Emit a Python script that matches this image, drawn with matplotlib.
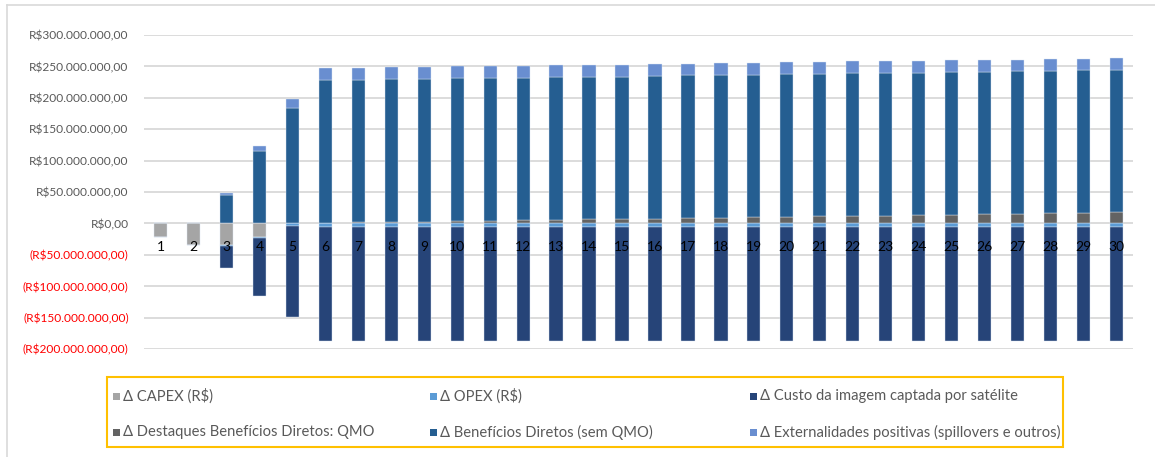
import numpy as np
import matplotlib.pyplot as plt
from matplotlib.patches import Rectangle
from matplotlib.lines import Line2D

plt.rcParams['font.family'] = ['Lato', 'DejaVu Sans']

# valores em milhões de R$
anos = list(range(1, 31))
capex = [-22, -34.5, -34.5, -21, 0, 0, 0, 0, 0, 0, 0, 0, 0, 0, 0,
         0, 0, 0, 0, 0, 0, 0, 0, 0, 0, 0, 0, 0, 0, 0]
opex = [0, 0, -1, -1.5, -4.5, -5, -5, -5, -5, -5, -5, -5, -5, -5, -5,
        -5, -5, -5, -5, -5, -5, -5, -5, -5, -5, -5, -5, -5, -5, -5]
custo_imagem = [0, 0, -35.5, -93, -144, -182, -182, -182, -182, -182, -182, -182, -182, -182, -182,
                -182, -182, -182, -182, -182, -182, -182, -182, -182, -182, -182, -182, -182, -182, -182]
qmo = [0, 0, 0, 0, 0, 0.5, 1.5, 2.5, 3, 3.5, 4.5, 5, 5.5, 6.5, 7,
       7.5, 8, 9, 10, 10.5, 11, 11.5, 12, 13, 14, 14.5, 15, 16, 17, 17.5]
beneficios = [0, 0, 45, 115, 183.5, 228, 227.5, 227.2, 227.6, 227.8, 227.2, 227.2, 227.8, 227.3, 226.8,
              227.9, 228, 227.7, 227, 227.5, 227.6, 228.2, 228.2, 227.2, 227.7, 227.2, 227.9, 227.3, 227.4, 227.5]
externalidades = [0, 0, 4, 9, 14, 18.4, 19, 19, 18.6, 19, 19.1, 19.1, 19.1, 18.6, 19.1,
                  18.6, 18.4, 18.4, 19, 18.7, 18.5, 18.5, 18.5, 19, 18.1, 18.6, 17.9, 18.6, 18, 18]

nomes = ['Δ CAPEX (R$)', 'Δ OPEX (R$)', 'Δ Custo da imagem captada por satélite',
         'Δ Destaques Benefícios Diretos: QMO', 'Δ Benefícios Diretos (sem QMO)',
         'Δ Externalidades positivas (spillovers e outros)']
cores = ['#A5A5A5', '#5B9BD5', '#264478', '#636363', '#255E91', '#698ED0']

fig = plt.figure(figsize=(11.55, 4.57), dpi=100)
ax = fig.add_axes([144 / 1155, 1 - 349 / 457, 989 / 1155, 314 / 457])

x = np.array(anos)
w = 0.4
capex = np.array(capex); opex = np.array(opex); custo_imagem = np.array(custo_imagem)
qmo = np.array(qmo); beneficios = np.array(beneficios); externalidades = np.array(externalidades)

kw = dict(width=w, edgecolor='#dce6f2', linewidth=0.3)
ax.bar(x, capex, color=cores[0], **kw)
ax.bar(x, opex, bottom=capex, color=cores[1], **kw)
ax.bar(x, custo_imagem, bottom=capex + opex, color=cores[2], **kw)
ax.bar(x, qmo, color=cores[3], **kw)
ax.bar(x, beneficios, bottom=qmo, color=cores[4], **kw)
ax.bar(x, externalidades, bottom=qmo + beneficios, color=cores[5], **kw)

ax.set_xlim(0.5, 30.5)
ax.set_ylim(-200, 300)
yt = np.arange(-200, 301, 50)
ax.set_yticks(yt)


def fmt(v):
    s = f"{abs(v) * 1e6:,.2f}".replace(',', 'X').replace('.', ',').replace('X', '.')
    return f"(R${s})" if v < 0 else f"R${s}"


ax.set_yticklabels([fmt(v) for v in yt])
for lab, v in zip(ax.get_yticklabels(), yt):
    lab.set_color('#FF0000' if v < 0 else '#595959')
    lab.set_fontsize(8.6)
ax.tick_params(axis='y', length=0, pad=11)

ax.set_xticks(x)
ax.set_xticklabels([str(a) for a in anos], fontsize=13.5, color='black')
ax.spines['bottom'].set_position(('data', 0))
ax.tick_params(axis='x', length=0, pad=13)
for s in ax.spines.values():
    s.set_visible(False)

ax.grid(axis='y', color='#d9d9d9', linewidth=1.3)
ax.set_axisbelow(True)
ax.xaxis.set_zorder(3)

# borda da área do gráfico
fig.add_artist(Line2D([7 / 1155, 7 / 1155], [0, 1 - 5 / 457], transform=fig.transFigure,
                      color='#d9d9d9', linewidth=1.2))
fig.add_artist(Line2D([7 / 1155, 1], [1 - 5 / 457, 1 - 5 / 457], transform=fig.transFigure,
                      color='#d9d9d9', linewidth=1.2))

# legenda
W, H = 1155, 457
fig.add_artist(Rectangle((107 / W, 1 - 447 / H), (1063 - 107) / W, 70 / H,
                         transform=fig.transFigure, fill=False, edgecolor='#FFC000', linewidth=1.5))
col_x = [113, 430, 750]
row_y = [396, 432]
for i, (nome, cor) in enumerate(zip(nomes, cores)):
    cx = col_x[i % 3]
    cy = row_y[i // 3]
    fig.add_artist(Rectangle((cx / W, 1 - (cy + 4) / H), 7 / W, 7 / H,
                             transform=fig.transFigure, color=cor, linewidth=0))
    fig.text((cx + 10) / W, 1 - cy / H, nome, fontsize=10.6, color='#595959', va='center', ha='left')

fig.savefig('out.png', dpi=100)
